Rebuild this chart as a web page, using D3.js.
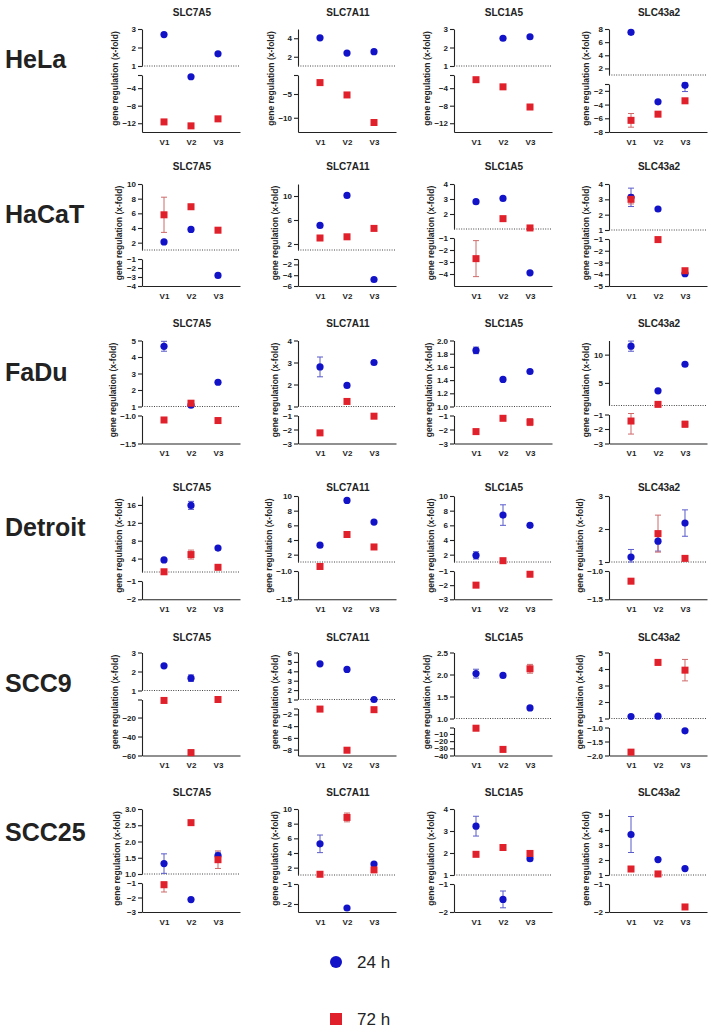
<!DOCTYPE html>
<html>
<head>
<meta charset="utf-8">
<script src="https://cdn.jsdelivr.net/npm/d3@7"></script>
<style>
  body { margin: 0; background: #fff; }
  text { font-family: "Liberation Sans", Arial, sans-serif; fill: #222; }
</style>
</head>
<body>
<svg id="chart" width="716" height="1033"></svg>
<script>
// data: [cell line][gene][visit]
var cells = ['HeLa', 'HaCaT', 'FaDu', 'Detroit', 'SCC9', 'SCC25'];
var genes = ['SLC7A5', 'SLC7A11', 'SLC1A5', 'SLC43a2'];
var visits = ['V1', 'V2', 'V3'];

var fold24h = [
  [[2.7, -1.4, 1.66], [4.05, 2.4, 2.55], [null, 2.5, 2.58], [7.5, -3.6, -1.2]],
  [[2.1, 3.8, -2.83], [5.1, 10.1, -4.8], [2.82, 3.04, -3.9], [3.13, 2.37, -3.95]],
  [[4.65, 1.08, 2.47], [2.8, 1.96, 3.0], [1.85, 1.41, 1.53], [11.5, 3.6, 8.3]],
  [[3.7, 15.9, 6.35], [3.3, 9.4, 6.45], [1.9, 7.4, 6.0], [1.15, 1.63, 2.18]],
  [[2.3, 1.65, null], [4.8, 4.2, 1.0], [2.02, 1.98, 1.24], [1.12, 1.14, -1.12]],
  [[1.32, -2.14, 1.57], [5.25, -2.2, 2.5], [3.22, -1.55, 1.74], [3.7, 2.03, 1.43]]
];
var sd24h = [
  [[0, 0, 0], [0, 0, 0], [0, 0, 0], [0.3, 0, 0.9]],
  [[0, 0, 0], [0, 0, 0], [0, 0, 0], [0.6, 0, 0]],
  [[0.3, 0, 0], [0.45, 0, 0], [0.05, 0, 0], [0.9, 0, 0]],
  [[0, 0.9, 0], [0, 0.2, 0], [0.5, 1.4, 0], [0.23, 0.3, 0.4]],
  [[0, 0.17, 0], [0, 0, 0], [0.1, 0, 0], [0, 0, 0]],
  [[0.3, 0, 0.1], [1.2, 0, 0], [0.45, 0.3, 0], [1.2, 0, 0]]
];
var fold72h = [
  [[-11.7, -12.6, -11], [-2.6, -5.2, -11], [-2.07, -3.7, -8.3], [-6.3, -5.4, -3.45]],
  [[5.8, 6.9, 3.7], [3.0, 3.2, 4.6], [-2.72, 1.69, 1.07], [3.0, -1.05, -3.7]],
  [[-1.08, 1.2, -1.09], [-2.24, 1.23, -1.05], [-2.15, -1.2, -1.47], [-1.45, 1.2, -1.67]],
  [[1.05, 4.9, 2.05], [-0.92, 4.75, 3.05], [-2.0, 1.18, -1.23], [-1.18, 1.86, 1.11]],
  [[-2, -57, -1], [-1.1, -8.1, -1.2], [-2, -31.5, 2.13], [-1.88, 4.4, 3.93]],
  [[-1.12, 2.58, 1.44], [1.1, 8.85, 1.7], [1.94, 2.25, 1.98], [1.4, 1.07, -1.82]]
];
var sd72h = [
  [[0, 0, 0], [0, 0, 0], [0, 0, 0], [1.0, 0, 0]],
  [[2.4, 0, 0], [0, 0, 0], [1.5, 0, 0], [0.3, 0, 0.15]],
  [[0, 0.1, 0.03], [0, 0, 0], [0, 0, 0.25], [0.9, 0, 0.2]],
  [[0, 1.0, 0], [0, 0, 0], [0, 0, 0], [0.03, 0.56, 0.05]],
  [[0, 3, 0], [0, 0, 0], [0, 0, 0.1], [0, 0.15, 0.65]],
  [[0.5, 0.05, 0.27], [0, 0.6, 0], [0.1, 0, 0], [0.15, 0, 0]]
];

// broken y axis: upper part [1, max], lower part [min, -1]
var upperMax = [
  [3, 5, 3, 8], [10, 12, 4, 4], [5, 4, 2, 12.5],
  [18, 10, 10, 3], [3, 6, 2.5, 5], [3, 10, 4, 5.4]
];
var lowerMin = [
  [-14, -13, -14, -8], [-4, -6, -5, -5], [-1.5, -3, -3, -3],
  [-2, -1.5, -3, -1.5], [-60, -9, -40, -2], [-3, -2.4, -2, -2]
];
var upperTicks = [
  [[1, 2, 3], [2, 4], [1, 2, 3], [2, 4, 6, 8]],
  [[2, 4, 6, 8, 10], [2, 6, 10], [2, 3, 4], [1, 2, 3, 4]],
  [[1, 2, 3, 4, 5], [1, 2, 3, 4], [1.0, 1.2, 1.4, 1.6, 1.8, 2.0], [5, 10]],
  [[4, 8, 12, 16], [2, 4, 6, 8, 10], [2, 4, 6, 8, 10], [1, 2, 3]],
  [[1, 2, 3], [1, 2, 3, 4, 5, 6], [1.0, 1.5, 2.0, 2.5], [1, 2, 3, 4, 5]],
  [[1.0, 1.5, 2.0, 2.5, 3.0], [2, 4, 6, 8, 10], [1, 2, 3, 4], [1, 2, 3, 4, 5]]
];
var lowerTicks = [
  [[-4, -8, -12], [-5, -10], [-4, -8, -12], [-2, -4, -6, -8]],
  [[-1, -2, -3, -4], [-2, -4, -6], [-1, -2, -3, -4], [-1, -2, -3, -4, -5]],
  [[-1.0, -1.5], [-1, -2, -3], [-1, -2, -3], [-1, -2, -3]],
  [[-1, -2], [-1.0, -1.5], [-1, -2, -3], [-1.0, -1.5]],
  [[-20, -40, -60], [-2, -4, -6, -8], [-10, -20, -30, -40], [-1.0, -1.5, -2.0]],
  [[-1, -2, -3], [-1, -2], [-1, -2], [-1, -2]]
];

// layout
var colX = [142, 298, 454, 609];
var plotW = 98;
var rowTop = [29, 184, 340.5, 496, 652.5, 809];
var rowBot = [132, 286, 443.5, 599.3, 755.5, 912];
var upperPx = [
  [37, 37, 37, 46], [66, 66, 45, 46], [66, 66, 66, 65],
  [76, 66, 66, 66], [38, 47, 66, 66], [65, 66, 66, 66]
];
var gapPx = 9;
var titleY = [15.7, 169.5, 326.7, 490.7, 640.7, 795.7];
var cellY = [68.3, 223.3, 380.7, 535.7, 691.7, 840.7];

var blue = '#1212c8', red = '#e0202a';
var blueErr = '#5b5bcc', redErr = '#cf6a6a';

var svg = d3.select('#chart');

function fmtFor(ticks) {
  var dec = ticks.some(function(t) { return Math.round(t) !== t; });
  return dec ? d3.format('.1f') : d3.format('d');
}

cells.forEach(function(cell, r) {
  svg.append('text')
     .attr('x', 5)
     .attr('y', cellY[r])
     .style('font-size', '25px')
     .style('font-weight', 'bold')
     .text(cell);

  genes.forEach(function(gene, c) {
    var x0 = colX[c];
    var top = rowTop[r], bot = rowBot[r];
    var y1 = top + upperPx[r][c];
    var yLowTop = y1 + gapPx;
    var g = svg.append('g');

    var x = d3.scalePoint().domain(visits).range([x0, x0 + plotW]).padding(0.815);
    var up = d3.scaleLinear().domain([1, upperMax[r][c]]).range([y1, top]);
    var low = d3.scaleLinear().domain([lowerMin[r][c], -1]).range([bot, yLowTop]);
    var place = function(v) { return v >= 0 ? up(v) : low(v); };

    g.append('text')
     .attr('x', x0 + plotW / 2 + 1)
     .attr('y', titleY[r])
     .attr('text-anchor', 'middle')
     .style('font-size', '10px')
     .style('font-weight', 'bold')
     .text(gene);

    var uTicks = upperTicks[r][c];
    var lTicks = lowerTicks[r][c];
    var uFmt = fmtFor(uTicks), lFmt = fmtFor(lTicks);
    var lAll = lTicks.indexOf(-1) < 0 ? [-1].concat(lTicks) : lTicks;

    var upAxis = g.append('g')
      .attr('transform', 'translate(' + x0 + ',0)')
      .call(d3.axisLeft(up).tickValues(uTicks).tickSize(4).tickSizeOuter(0)
              .tickPadding(2).tickFormat(uFmt));
    var lowAxis = g.append('g')
      .attr('transform', 'translate(' + x0 + ',0)')
      .call(d3.axisLeft(low).tickValues(lAll).tickSize(4).tickSizeOuter(0)
              .tickPadding(2)
              .tickFormat(function(d) { return lTicks.indexOf(d) >= 0 ? lFmt(d) : ''; }));
    var xAxis = g.append('g')
      .attr('transform', 'translate(0,' + bot + ')')
      .call(d3.axisBottom(x).tickSize(0).tickSizeOuter(0).tickPadding(7));

    g.selectAll('.tick text')
     .style('font-size', '8px')
     .style('font-weight', 'bold')
     .attr('fill', '#222');
    g.selectAll('.domain, .tick line')
     .attr('stroke', '#222')
     .attr('stroke-width', 1.1);

    // dotted reference line at 1
    g.append('line')
     .attr('x1', x0).attr('x2', x0 + plotW)
     .attr('y1', y1).attr('y2', y1)
     .attr('stroke', '#444')
     .attr('stroke-width', 1)
     .attr('stroke-dasharray', '1,1.4');

    // y-axis title, placed left of the widest tick label
    var maxW = 0;
    g.selectAll('.tick text').each(function() {
      if (this.parentNode.parentNode === xAxis.node()) return;
      maxW = Math.max(maxW, this.getComputedTextLength());
    });
    var lx = x0 - 6 - maxW - 7.5;
    g.append('text')
     .attr('transform', 'translate(' + lx + ',' + ((top + bot) / 2 - 2) + ') rotate(-90)')
     .attr('text-anchor', 'middle')
     .attr('dy', '0.35em')
     .style('font-size', '8.5px')
     .style('font-weight', 'bold')
     .text('gene regulation (x-fold)');

    // clamp error bars inside the segment of their point
    function errBars(vals, sds, color) {
      vals.forEach(function(v, i) {
        var sd = sds[i];
        if (v === null || !sd) return;
        var cx = x(visits[i]);
        var lo, hi, yA, yB;
        if (v >= 0) {
          yA = up(Math.min(v + sd, upperMax[r][c] + 10));
          yB = up(v - sd);
          yB = Math.min(yB, y1);
        } else {
          yA = low(v + sd);
          yB = low(v - sd);
          yA = Math.max(yA, yLowTop - 1);
        }
        g.append('line').attr('x1', cx).attr('x2', cx).attr('y1', yA).attr('y2', yB)
         .attr('stroke', color).attr('stroke-width', 1);
        [yA, yB].forEach(function(yy) {
          g.append('line').attr('x1', cx - 3).attr('x2', cx + 3).attr('y1', yy).attr('y2', yy)
           .attr('stroke', color).attr('stroke-width', 1);
        });
      });
    }

    errBars(fold24h[r][c], sd24h[r][c], blueErr);
    errBars(fold72h[r][c], sd72h[r][c], redErr);

    g.selectAll('circle.h24')
     .data(fold24h[r][c].map(function(v, i) { return {v: v, k: visits[i]}; })
                        .filter(function(d) { return d.v !== null; }))
     .enter().append('circle')
     .attr('class', 'h24')
     .attr('cx', function(d) { return x(d.k); })
     .attr('cy', function(d) { return place(d.v); })
     .attr('r', 3.6)
     .attr('fill', blue);

    g.selectAll('rect.h72')
     .data(fold72h[r][c].map(function(v, i) { return {v: v, k: visits[i]}; })
                        .filter(function(d) { return d.v !== null; }))
     .enter().append('rect')
     .attr('class', 'h72')
     .attr('x', function(d) { return x(d.k) - 3.5; })
     .attr('y', function(d) { return place(d.v) - 3.5; })
     .attr('width', 7)
     .attr('height', 7)
     .attr('fill', red);
  });
});

// legend
var legend = svg.append('g');
legend.append('circle').attr('cx', 336).attr('cy', 962).attr('r', 6).attr('fill', blue);
legend.append('text').attr('x', 357).attr('y', 968).style('font-size', '17px').text('24 h');
legend.append('rect').attr('x', 330).attr('y', 1013).attr('width', 12).attr('height', 12).attr('fill', red);
legend.append('text').attr('x', 357).attr('y', 1025).style('font-size', '17px').text('72 h');
</script>
</body>
</html>
